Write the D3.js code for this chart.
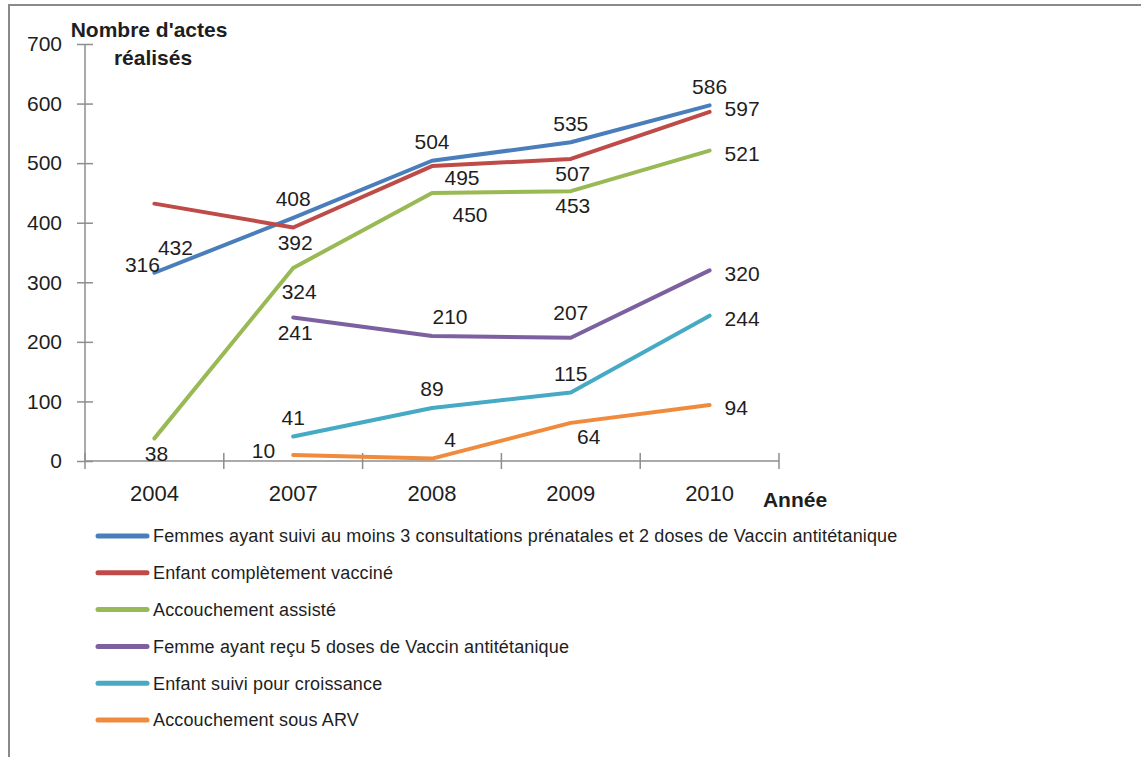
<!DOCTYPE html>
<html>
<head>
<meta charset="utf-8">
<script src="https://cdn.jsdelivr.net/npm/d3@7/dist/d3.min.js"></script>
<style>
  body { margin: 0; background: #fff; }
  svg { display: block; }
  text { font-family: "Liberation Sans", Arial, sans-serif; fill: #1e1e1e; }
</style>
</head>
<body>
<div id="chart"></div>
<script>
// data
const years = ["2004", "2007", "2008", "2009", "2010"];
const yTicks = [0, 100, 200, 300, 400, 500, 600, 700];

const seriesNames = [
    "Femmes ayant suivi au moins 3 consultations prénatales et 2 doses de Vaccin antitétanique",
    "Enfant complètement vacciné",
    "Accouchement assisté",
    "Femme ayant reçu 5 doses de Vaccin antitétanique",
    "Enfant suivi pour croissance",
    "Accouchement sous ARV"
];
const femmesConsult = [316, 408, 504, 535, 597];
const enfantVaccine = [432, 392, 495, 507, 586];
const accAssiste = [38, 324, 450, 453, 521];
const femmeVat5 = [null, 241, 210, 207, 320];
const enfantCroissance = [null, 41, 89, 115, 244];
const accArv = [null, 10, 4, 64, 94];

const colors = ["#4a7ebb", "#be4b48", "#98b954", "#7d60a0", "#46aac5", "#f08a3c"];

// where each data label sits relative to its point
const labelPlace = [
    ["al", "a", "a", "a", "r"],
    ["bf", "b", "br2", "b", "a2"],
    ["b", "b2", "br3", "b", "r"],
    [null, "b", "ar", "a2", "r"],
    [null, "a", "a", "a", "r"],
    [null, "l", "ar", "br", "r"]
];
const placeOffset = {
    a: [0, -19], a2: [0, -25], al: [-12, -8], ar: [18, -19],
    b: [2, 15], b2: [6, 24], br: [18, 14], br2: [30, 12], br3: [38, 22], bf: [21, 44],
    r: [33, 3], l: [-18, -4]
};

const allValues = [femmesConsult, enfantVaccine, accAssiste, femmeVat5, enfantCroissance, accArv];

const svg = d3.select("#chart").append("svg")
    .attr("width", 1141)
    .attr("height", 757);

// outer frame (top and left edges only, as in the source)
svg.append("path")
    .attr("d", "M9,757 L9,5 L1141,5")
    .attr("fill", "none")
    .attr("stroke", "#8a8a8a")
    .attr("stroke-width", 2);

const x = d3.scaleBand()
    .domain(years)
    .range([85, 779]);
const y = d3.scaleLinear()
    .domain([0, 700])
    .range([461, 44]);
const cx = d => x(d) + x.bandwidth() / 2;

// y axis
const yAxis = svg.append("g")
    .attr("transform", "translate(85,0)")
    .call(d3.axisLeft(y).tickValues(yTicks).tickSize(8).tickPadding(15));
yAxis.select(".domain").attr("stroke", "#8e8e8e").attr("stroke-width", 1.5)
    .attr("d", `M0,${y(0)}V${y(700)}`);
yAxis.selectAll(".tick line").attr("x1", -8).attr("x2", 8)
    .attr("stroke", "#8e8e8e").attr("stroke-width", 1.5);
yAxis.selectAll(".tick text")
    .style("font-family", '"Liberation Sans", Arial, sans-serif')
    .style("font-size", "21px").attr("fill", "#1e1e1e");

// x axis: labels centred in bands, ticks on band edges
const xAxis = svg.append("g")
    .attr("transform", `translate(0,${y(0)})`)
    .call(d3.axisBottom(x).tickSize(0).tickPadding(24));
xAxis.select(".domain").attr("stroke", "#8e8e8e").attr("stroke-width", 1.5)
    .attr("d", `M85,0H779`);
xAxis.selectAll(".tick text")
    .style("font-family", '"Liberation Sans", Arial, sans-serif')
    .style("font-size", "22px").attr("fill", "#1e1e1e");
xAxis.selectAll(".edge")
    .data(years.map(d => x(d)).concat([x.range()[1]]))
    .join("line")
    .attr("x1", d => d).attr("x2", d => d)
    .attr("y1", -8).attr("y2", 8)
    .attr("stroke", "#8e8e8e").attr("stroke-width", 1.5);

// axis titles
svg.append("text").attr("x", 149).attr("y", 37)
    .attr("text-anchor", "middle").attr("font-weight", "bold").attr("font-size", 21)
    .text("Nombre d'actes");
svg.append("text").attr("x", 153).attr("y", 65)
    .attr("text-anchor", "middle").attr("font-weight", "bold").attr("font-size", 21)
    .text("réalisés");
svg.append("text").attr("x", 795).attr("y", 507)
    .attr("text-anchor", "middle").attr("font-weight", "bold").attr("font-size", 21)
    .text("Année");

// lines
const line = d3.line()
    .defined(d => d.v != null)
    .x(d => cx(d.year))
    .y(d => y(d.v));

allValues.forEach((vals, i) => {
    const pts = years.map((yr, j) => ({ year: yr, v: vals[j] }));
    svg.append("path")
        .datum(pts)
        .attr("fill", "none")
        .attr("stroke", colors[i])
        .attr("stroke-width", 4)
        .attr("stroke-linejoin", "round")
        .attr("stroke-linecap", "round")
        .attr("d", line);
});

// data labels
allValues.forEach((vals, i) => {
    years.forEach((yr, j) => {
        if (vals[j] == null) return;
        const code = labelPlace[i][j];
        const off = placeOffset[code];
        const anchor = code === "l" ? "end" : (code === "r" ? "start" : "middle");
        const dx = code === "r" ? off[0] - 18 : off[0];
        svg.append("text")
            .attr("x", cx(yr) + dx)
            .attr("y", y(vals[j]) + off[1])
            .attr("dy", "0.35em")
            .attr("text-anchor", anchor)
            .attr("font-size", 21)
            .text(vals[j]);
    });
});

// legend
const legend = svg.append("g");
seriesNames.forEach((name, i) => {
    const ly = 536 + i * 36.8;
    legend.append("line")
        .attr("x1", 98).attr("x2", 147)
        .attr("y1", ly).attr("y2", ly)
        .attr("stroke", colors[i]).attr("stroke-width", 5)
        .attr("stroke-linecap", "round");
    legend.append("text")
        .attr("x", 153).attr("y", ly)
        .attr("dy", "0.35em")
        .attr("font-size", 18)
        .attr("letter-spacing", 0.15)
        .text(name);
});
</script>
</body>
</html>
